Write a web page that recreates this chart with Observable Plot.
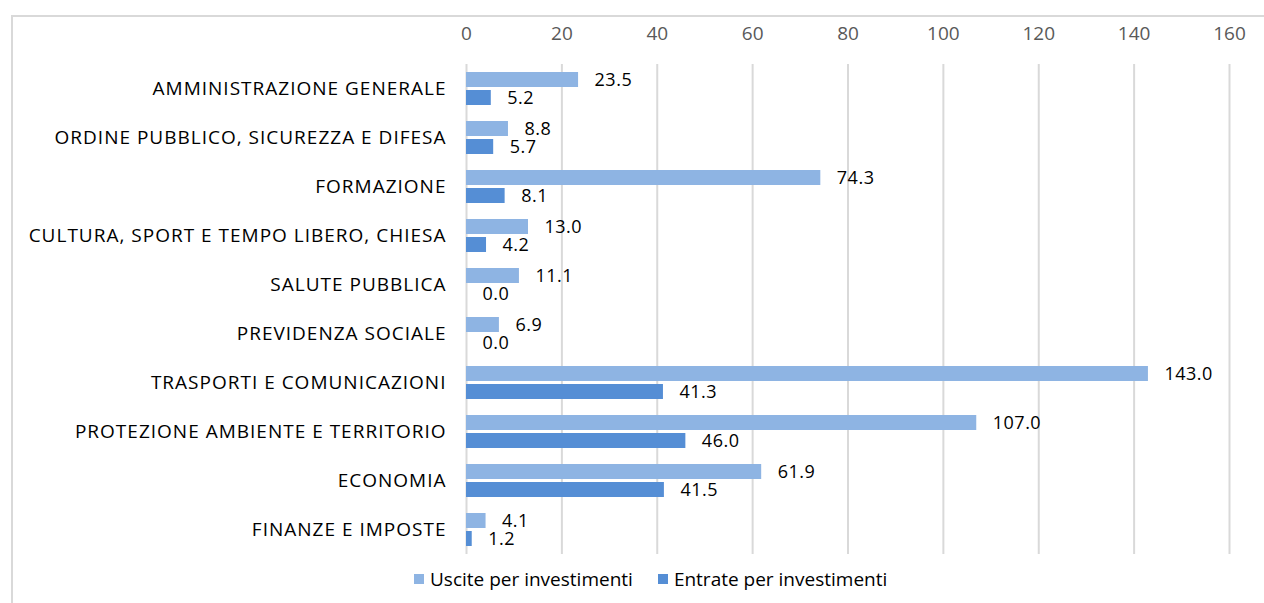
<!DOCTYPE html>
<html>
<head>
<meta charset="utf-8">
<script src="https://cdn.jsdelivr.net/npm/d3@7"></script>
<script src="https://cdn.jsdelivr.net/npm/@observablehq/plot@0.6"></script>
<style>
  html, body { margin: 0; padding: 0; background: #fff; }
  body { width: 1264px; height: 603px; position: relative; overflow: hidden; font-family: "Open Sans", sans-serif; }
  #frame { position: absolute; left: 11px; top: 15px; width: 1300px; height: 700px; border-left: 2px solid #d9d9d9; border-top: 2px solid #d9d9d9; box-sizing: border-box; }
  #chart { position: absolute; left: 0; top: 0; }
  #legend { position: absolute; top: 566px; left: 414px; display: flex; gap: 25px; font-size: 19px; color: #000; white-space: nowrap; }
  .item { display: flex; align-items: center; gap: 6px; }
  .sw { width: 10px; height: 10px; display: inline-block; }
</style>
</head>
<body>
<div id="frame"></div>
<div id="chart"></div>
<div id="legend"></div>
<script>
const categories = [
  "AMMINISTRAZIONE GENERALE",
  "ORDINE PUBBLICO, SICUREZZA E DIFESA",
  "FORMAZIONE",
  "CULTURA, SPORT E TEMPO LIBERO, CHIESA",
  "SALUTE PUBBLICA",
  "PREVIDENZA SOCIALE",
  "TRASPORTI E COMUNICAZIONI",
  "PROTEZIONE AMBIENTE E TERRITORIO",
  "ECONOMIA",
  "FINANZE E IMPOSTE"
];
const seriesNames = ["Uscite per investimenti", "Entrate per investimenti"];
const uscite = [23.5, 8.8, 74.3, 13.0, 11.1, 6.9, 143.0, 107.0, 61.9, 4.1];
const entrate = [5.2, 5.7, 8.1, 4.2, 0.0, 0.0, 41.3, 46.0, 41.5, 1.2];
const xTicks = [0, 20, 40, 60, 80, 100, 120, 140, 160];
const colors = ["#8eb4e3", "#558ed5"];

const rows = [];
categories.forEach((c, i) => {
  rows.push({cat: c, series: seriesNames[0], value: uscite[i]});
  rows.push({cat: c, series: seriesNames[1], value: entrate[i]});
});

const chart = Plot.plot({
  width: 1264,
  height: 558,
  marginTop: 62,
  marginBottom: 2,
  marginLeft: 466,
  marginRight: 35,
  style: {fontFamily: "'Open Sans', sans-serif", fontSize: "18px", background: "transparent"},
  x: {domain: [0, 160], axis: null},
  y: {domain: seriesNames, axis: null, paddingInner: 0.16, paddingOuter: 0.37},
  fy: {domain: categories, padding: 0, label: null},
  color: {domain: seriesNames, range: colors},
  marks: [
    Plot.ruleX(xTicks, {stroke: "#d9d9d9", strokeWidth: 2, strokeOpacity: 1}),
    Plot.axisX(xTicks, {anchor: "top", tickSize: 0, tickPadding: 25, label: null, fill: "#595959", fontSize: 19}),
    Plot.axisFy({anchor: "left", tickSize: 0, tickPadding: 20, label: null, fill: "#000", fontSize: 19}),
    Plot.barX(rows, {fy: "cat", y: "series", x: "value", fill: "series"}),
    Plot.text(rows, {fy: "cat", y: "series", x: "value", text: d => d.value.toFixed(1), textAnchor: "start", dx: 16, fill: "#000", fontSize: 18})
  ]
});
d3.select(chart).selectAll('g[aria-label="fy-axis tick label"] text').attr("letter-spacing", "1px");
d3.select(chart).selectAll('g[aria-label="text"] text').attr("letter-spacing", "0.5px");
document.getElementById("chart").appendChild(chart);

const legend = document.getElementById("legend");
seriesNames.forEach((s, i) => {
  const it = document.createElement("div");
  it.className = "item";
  const sw = document.createElement("span");
  sw.className = "sw";
  sw.style.background = colors[i];
  const t = document.createElement("span");
  t.textContent = s;
  it.appendChild(sw); it.appendChild(t);
  legend.appendChild(it);
});
</script>
</body>
</html>
